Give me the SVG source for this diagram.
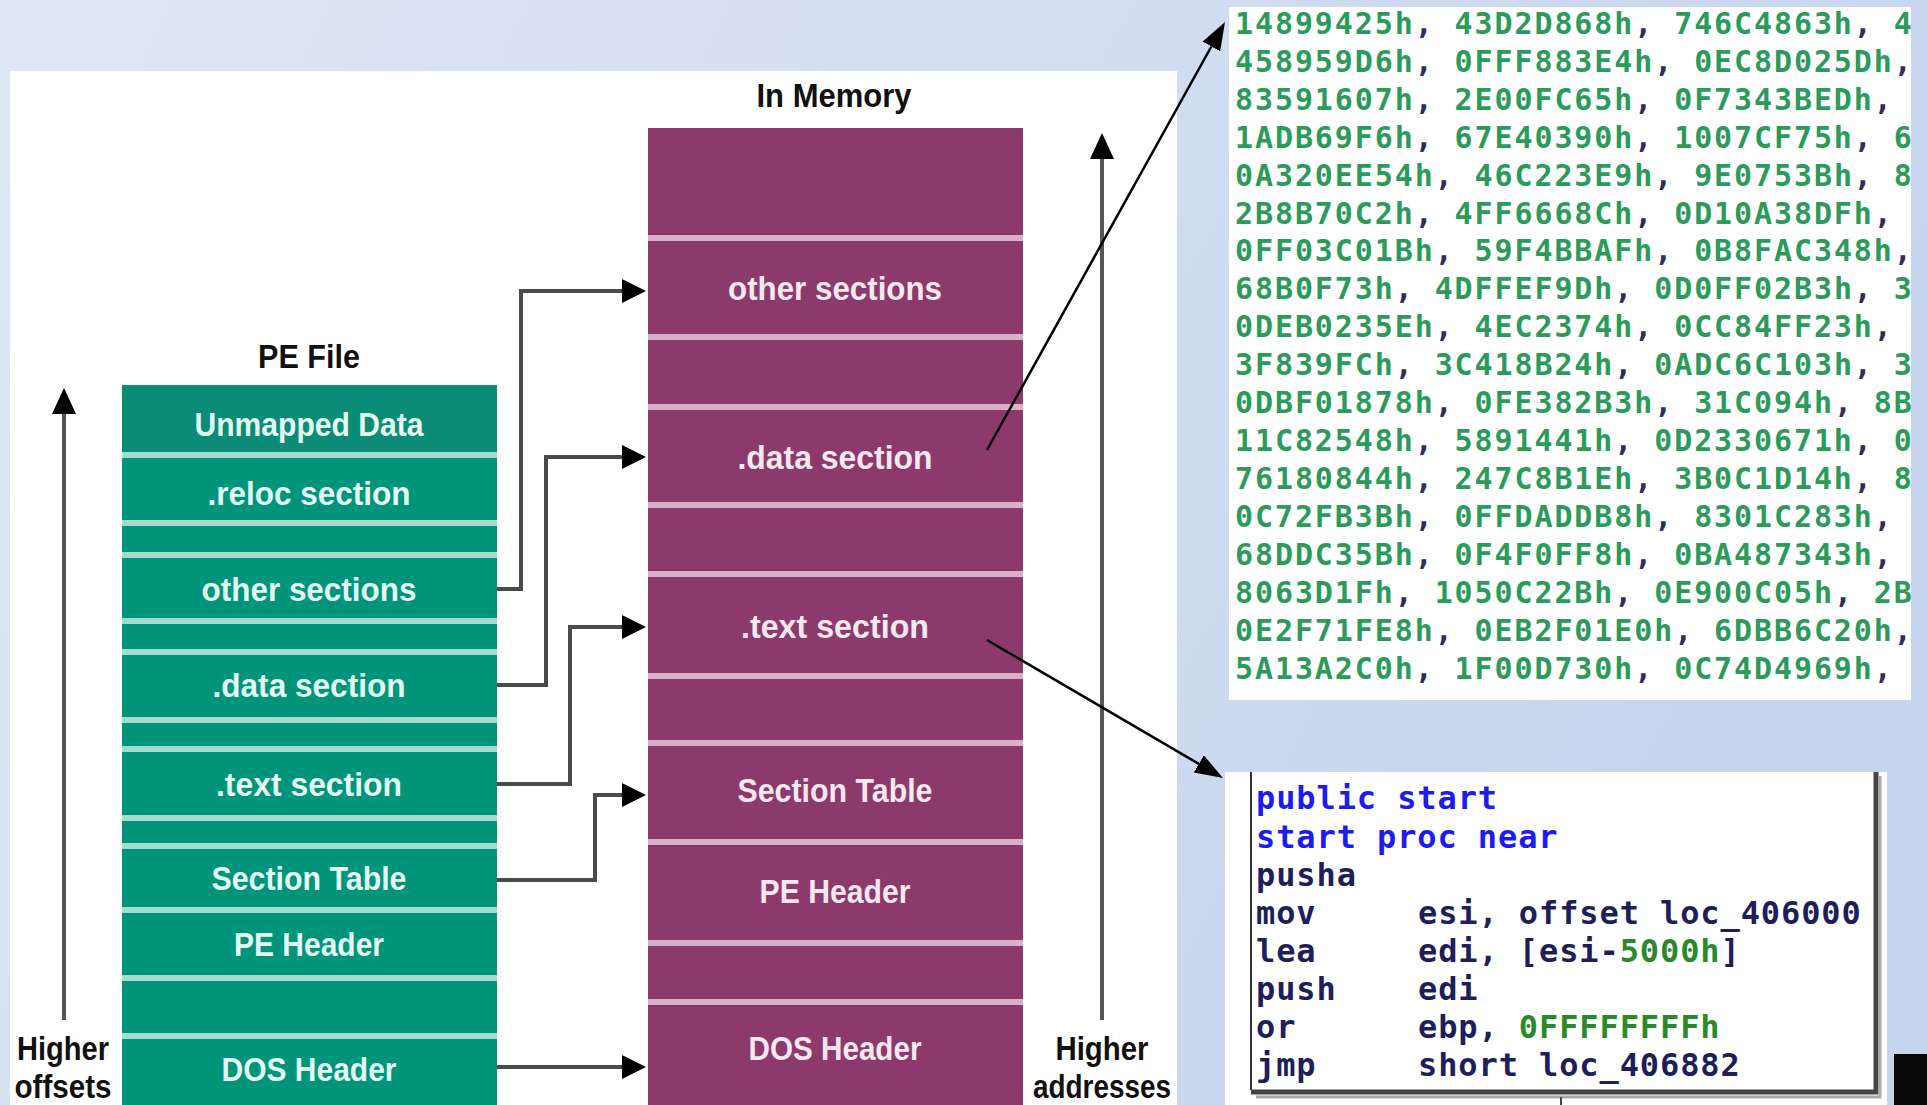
<svg xmlns="http://www.w3.org/2000/svg" width="1927" height="1105" viewBox="0 0 1927 1105">
<defs>
<linearGradient id="bg" x1="0" y1="0" x2="1" y2="0.3">
<stop offset="0" stop-color="#dfe6f4"/>
<stop offset="1" stop-color="#c6d5ee"/>
</linearGradient>
<marker id="ah" markerWidth="24" markerHeight="24" refX="0" refY="12" orient="auto" markerUnits="userSpaceOnUse"><path d="M0,0 L24,12 L0,24 Z" fill="#000"/></marker>
<marker id="ahv" markerWidth="26" markerHeight="24" refX="0" refY="12" orient="auto" markerUnits="userSpaceOnUse"><path d="M0,0 L26,12 L0,24 Z" fill="#000"/></marker>
<marker id="ahs" markerWidth="28" markerHeight="20" refX="0" refY="10" orient="auto" markerUnits="userSpaceOnUse"><path d="M0,0 L28,10 L0,20 Z" fill="#000"/></marker>
<clipPath id="hexclip"><rect x="1229" y="7" width="682" height="693"/></clipPath>
<style>
.teal{fill:#00957b}
.tealsep{fill:#a3dbcf}
.purp{fill:#8c3a6c}
.purpsep{fill:#d9b0ca}
.tt{font-family:"Liberation Sans",Arial,sans-serif;font-weight:bold;font-size:34px;fill:#e4f9f2;text-anchor:middle;dominant-baseline:central}
.pt{font-family:"Liberation Sans",Arial,sans-serif;font-weight:bold;font-size:34px;fill:#f6e8f1;text-anchor:middle;dominant-baseline:central}
.lbl{font-family:"Liberation Sans",Arial,sans-serif;font-weight:bold;font-size:33px;fill:#111;text-anchor:middle;dominant-baseline:central}
.conn{fill:none;stroke:#4a4a4a;stroke-width:4}
.axis{fill:none;stroke:#555;stroke-width:4}
.thin{fill:none;stroke:#000;stroke-width:2.5}
.hex{font-family:"DejaVu Sans Mono","Liberation Mono",monospace;font-weight:bold;font-size:30px;letter-spacing:1.9px;fill:#2c9a5a}
.c{fill:#2d2d5c}
.code{font-family:"DejaVu Sans Mono","Liberation Mono",monospace;font-weight:bold;font-size:32px;letter-spacing:0.9px;fill:#1e1e5a}
.kw{fill:#1c1cf0}
.num{fill:#2a8a2a}
</style>
</defs>

<rect x="0" y="0" width="1927" height="1105" fill="url(#bg)"/>
<rect x="10" y="71" width="1167" height="1034" fill="#fff"/>

<g id="label-pe-file"><text class="lbl" x="309" y="356" textLength="102" lengthAdjust="spacingAndGlyphs">PE File</text></g>
<g id="label-in-memory"><text class="lbl" x="834" y="95" textLength="155" lengthAdjust="spacingAndGlyphs">In Memory</text></g>
<g id="label-higher-offsets">
<text class="lbl" x="63" y="1048" textLength="92" lengthAdjust="spacingAndGlyphs">Higher</text>
<text class="lbl" x="63" y="1086" textLength="97" lengthAdjust="spacingAndGlyphs">offsets</text>
</g>
<g id="label-higher-addresses">
<text class="lbl" x="1102" y="1048" textLength="93" lengthAdjust="spacingAndGlyphs">Higher</text>
<text class="lbl" x="1102" y="1086" textLength="138" lengthAdjust="spacingAndGlyphs">addresses</text>
</g>

<g id="pe-file">
<rect class="tealsep" x="122" y="385" width="375" height="720"/>
<g id="pe-unmapped"><rect x="122" y="385" width="375" height="67" fill="#0a8c76"/><text class="tt" x="309" y="424" textLength="229" lengthAdjust="spacingAndGlyphs">Unmapped Data</text></g>
<g id="pe-reloc"><rect class="teal" x="122" y="458" width="375" height="62"/><text class="tt" x="309" y="493" textLength="203" lengthAdjust="spacingAndGlyphs">.reloc section</text></g>
<g id="pe-gap1"><rect class="teal" x="122" y="526" width="375" height="26"/></g>
<g id="pe-other"><rect class="teal" x="122" y="558" width="375" height="60"/><text class="tt" x="309" y="589" textLength="215" lengthAdjust="spacingAndGlyphs">other sections</text></g>
<g id="pe-gap2"><rect class="teal" x="122" y="624" width="375" height="25"/></g>
<g id="pe-data"><rect class="teal" x="122" y="655" width="375" height="62"/><text class="tt" x="309" y="685" textLength="193" lengthAdjust="spacingAndGlyphs">.data section</text></g>
<g id="pe-gap3"><rect class="teal" x="122" y="723" width="375" height="23"/></g>
<g id="pe-text"><rect class="teal" x="122" y="752" width="375" height="63"/><text class="tt" x="309" y="784" textLength="186" lengthAdjust="spacingAndGlyphs">.text section</text></g>
<g id="pe-gap4"><rect class="teal" x="122" y="821" width="375" height="22"/></g>
<g id="pe-section-table"><rect class="teal" x="122" y="849" width="375" height="58"/><text class="tt" x="309" y="878" textLength="195" lengthAdjust="spacingAndGlyphs">Section Table</text></g>
<g id="pe-pe-header"><rect class="teal" x="122" y="913" width="375" height="62"/><text class="tt" x="309" y="944" textLength="150" lengthAdjust="spacingAndGlyphs">PE Header</text></g>
<g id="pe-gap5"><rect class="teal" x="122" y="981" width="375" height="52"/></g>
<g id="pe-dos-header"><rect class="teal" x="122" y="1039" width="375" height="66"/><text class="tt" x="309" y="1069" textLength="175" lengthAdjust="spacingAndGlyphs">DOS Header</text></g>
</g>

<g id="memory">
<rect class="purpsep" x="648" y="128" width="375" height="977"/>
<g id="mem-top"><rect class="purp" x="648" y="128" width="375" height="107"/></g>
<g id="mem-other"><rect class="purp" x="648" y="241" width="375" height="93"/><text class="pt" x="835" y="288" textLength="214" lengthAdjust="spacingAndGlyphs">other sections</text></g>
<g id="mem-gap1"><rect class="purp" x="648" y="340" width="375" height="64"/></g>
<g id="mem-data"><rect class="purp" x="648" y="410" width="375" height="92"/><text class="pt" x="835" y="457" textLength="195" lengthAdjust="spacingAndGlyphs">.data section</text></g>
<g id="mem-gap2"><rect class="purp" x="648" y="508" width="375" height="63"/></g>
<g id="mem-text"><rect class="purp" x="648" y="577" width="375" height="96"/><text class="pt" x="835" y="626" textLength="188" lengthAdjust="spacingAndGlyphs">.text section</text></g>
<g id="mem-gap3"><rect class="purp" x="648" y="679" width="375" height="61"/></g>
<g id="mem-section-table"><rect class="purp" x="648" y="746" width="375" height="93"/><text class="pt" x="835" y="790" textLength="195" lengthAdjust="spacingAndGlyphs">Section Table</text></g>
<g id="mem-pe-header"><rect class="purp" x="648" y="845" width="375" height="95"/><text class="pt" x="835" y="891" textLength="151" lengthAdjust="spacingAndGlyphs">PE Header</text></g>
<g id="mem-gap4"><rect class="purp" x="648" y="946" width="375" height="53"/></g>
<g id="mem-dos-header"><rect class="purp" x="648" y="1005" width="375" height="100"/><text class="pt" x="835" y="1048" textLength="173" lengthAdjust="spacingAndGlyphs">DOS Header</text></g>
</g>

<g id="hex-box">
<rect x="1229" y="7" width="682" height="693" fill="#fff"/>
<g clip-path="url(#hexclip)" class="hex">
<text x="1235" y="34">14899425h<tspan class="c">,</tspan> 43D2D868h<tspan class="c">,</tspan> 746C4863h<tspan class="c">,</tspan> 4</text>
<text x="1235" y="72">458959D6h<tspan class="c">,</tspan> 0FFF883E4h<tspan class="c">,</tspan> 0EC8D025Dh<tspan class="c">,</tspan></text>
<text x="1235" y="110">83591607h<tspan class="c">,</tspan> 2E00FC65h<tspan class="c">,</tspan> 0F7343BEDh<tspan class="c">,</tspan></text>
<text x="1235" y="148">1ADB69F6h<tspan class="c">,</tspan> 67E40390h<tspan class="c">,</tspan> 1007CF75h<tspan class="c">,</tspan> 6</text>
<text x="1235" y="186">0A320EE54h<tspan class="c">,</tspan> 46C223E9h<tspan class="c">,</tspan> 9E0753Bh<tspan class="c">,</tspan> 8</text>
<text x="1235" y="224">2B8B70C2h<tspan class="c">,</tspan> 4FF6668Ch<tspan class="c">,</tspan> 0D10A38DFh<tspan class="c">,</tspan></text>
<text x="1235" y="261">0FF03C01Bh<tspan class="c">,</tspan> 59F4BBAFh<tspan class="c">,</tspan> 0B8FAC348h<tspan class="c">,</tspan></text>
<text x="1235" y="299">68B0F73h<tspan class="c">,</tspan> 4DFFEF9Dh<tspan class="c">,</tspan> 0D0FF02B3h<tspan class="c">,</tspan> 3</text>
<text x="1235" y="337">0DEB0235Eh<tspan class="c">,</tspan> 4EC2374h<tspan class="c">,</tspan> 0CC84FF23h<tspan class="c">,</tspan></text>
<text x="1235" y="375">3F839FCh<tspan class="c">,</tspan> 3C418B24h<tspan class="c">,</tspan> 0ADC6C103h<tspan class="c">,</tspan> 3</text>
<text x="1235" y="413">0DBF01878h<tspan class="c">,</tspan> 0FE382B3h<tspan class="c">,</tspan> 31C094h<tspan class="c">,</tspan> 8B</text>
<text x="1235" y="451">11C82548h<tspan class="c">,</tspan> 5891441h<tspan class="c">,</tspan> 0D2330671h<tspan class="c">,</tspan> 0</text>
<text x="1235" y="489">76180844h<tspan class="c">,</tspan> 247C8B1Eh<tspan class="c">,</tspan> 3B0C1D14h<tspan class="c">,</tspan> 8</text>
<text x="1235" y="527">0C72FB3Bh<tspan class="c">,</tspan> 0FFDADDB8h<tspan class="c">,</tspan> 8301C283h<tspan class="c">,</tspan></text>
<text x="1235" y="565">68DDC35Bh<tspan class="c">,</tspan> 0F4F0FF8h<tspan class="c">,</tspan> 0BA487343h<tspan class="c">,</tspan></text>
<text x="1235" y="603">8063D1Fh<tspan class="c">,</tspan> 1050C22Bh<tspan class="c">,</tspan> 0E900C05h<tspan class="c">,</tspan> 2B</text>
<text x="1235" y="641">0E2F71FE8h<tspan class="c">,</tspan> 0EB2F01E0h<tspan class="c">,</tspan> 6DBB6C20h<tspan class="c">,</tspan></text>
<text x="1235" y="679">5A13A2C0h<tspan class="c">,</tspan> 1F00D730h<tspan class="c">,</tspan> 0C74D4969h<tspan class="c">,</tspan></text>
</g>
</g>

<g id="code-box">
<rect x="1225" y="772" width="662" height="333" fill="#fff"/>
<path d="M1251,772 V1090" stroke="#333" stroke-width="2" fill="none"/>
<path d="M1251,1092 H1876 V772" stroke="#444" stroke-width="5" fill="none"/>
<path d="M1256,1097 H1880 V776" stroke="#aaa" stroke-width="3" fill="none"/>
<path d="M1561,1097 V1105" stroke="#444" stroke-width="2"/>
<g class="code">
<text x="1256" y="809"><tspan class="kw">public start</tspan></text>
<text x="1256" y="848"><tspan class="kw">start proc near</tspan></text>
<text x="1256" y="886">pusha</text>
<text x="1256" y="924">mov</text><text x="1418" y="924">esi, offset loc_406000</text>
<text x="1256" y="962">lea</text><text x="1418" y="962">edi, [esi-<tspan class="num">5000h</tspan>]</text>
<text x="1256" y="1000">push</text><text x="1418" y="1000">edi</text>
<text x="1256" y="1038">or</text><text x="1418" y="1038">ebp, <tspan class="num">0FFFFFFFFh</tspan></text>
<text x="1256" y="1076">jmp</text><text x="1418" y="1076">short loc_406882</text>
</g>
</g>
<rect id="corner-block" x="1894" y="1054" width="33" height="51" fill="#0a0a0a"/>

<g id="connectors">
<path class="axis" d="M64,1020 V414" marker-end="url(#ahv)"/>
<path class="axis" d="M1102,1020 V159" stroke="#7a7a7a" marker-end="url(#ahv)"/>
<path class="conn" d="M497,589 H521 V291 H622" marker-end="url(#ah)"/>
<path class="conn" d="M497,685 H546 V457 H622" marker-end="url(#ah)"/>
<path class="conn" d="M497,784 H570 V627 H622" marker-end="url(#ah)"/>
<path class="conn" d="M497,880 H595 V795 H622" marker-end="url(#ah)"/>
<path class="conn" d="M497,1067 H622" marker-end="url(#ah)"/>
<path class="thin" d="M987,450 L1211.4,46.5" marker-end="url(#ahs)"/>
<path class="thin" d="M987,640 L1198.8,763.9" marker-end="url(#ahs)"/>
</g>
</svg>
